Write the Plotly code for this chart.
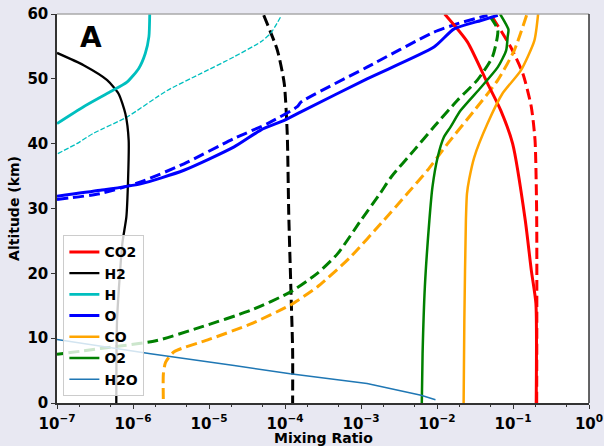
import plotly.graph_objects as go

# ---------------- data (altitude km, mixing ratio) ----------------
co2_alt = [60, 55.7, 49.3, 45.1, 40.0, 28.2, 20.5, 15.4, 0]
co2_val = [0.0126, 0.0251, 0.0462, 0.0692, 0.0989, 0.145, 0.174, 0.200, 0.202]
co2d_alt = [59.5, 54.9, 50.8, 45.7, 40.5, 28.7, 0]
co2d_val = [0.0537, 0.0933, 0.135, 0.174, 0.195, 0.205, 0.205]

h2_alt = [54.0, 52.1, 49.8, 47.7, 44.6, 40.5, 34.4, 28.7, 24.6, 12.8, 0]
h2_val = [1.0e-7, 2.24e-7, 4.57e-7, 6.46e-7, 7.94e-7, 8.77e-7, 8.61e-7, 8.18e-7, 7.24e-7, 6.17e-7, 6.03e-7]
h2d_alt = [59.8, 54.4, 49.3, 41.6, 29.2, 18.4, 8.1, 0]
h2d_val = [5.25e-5, 7.94e-5, 9.77e-5, 1.07e-4, 1.12e-4, 1.19e-4, 1.26e-4, 1.26e-4]

h_alt = [60, 56.5, 53.9, 51.6, 49.5, 48.0, 45.7, 43.1]
h_val = [1.66e-6, 1.62e-6, 1.45e-6, 1.19e-6, 8.32e-7, 5.01e-7, 2.24e-7, 1.0e-7]
hd_alt = [59.5, 57.0, 55.7, 53.4, 50.8, 48.2, 44.1, 41.6, 40.0, 38.4]
hd_val = [8.71e-5, 6.46e-5, 4.79e-5, 2.14e-5, 7.76e-6, 2.82e-6, 8.32e-7, 3.02e-7, 1.82e-7, 1.0e-7]

o_alt = [31.9, 32.8, 33.8, 35.9, 39.5, 42.1, 43.6, 44.9, 50.0, 54.9, 57.7, 59.0, 59.8]
o_val = [1.0e-7, 3.72e-7, 1.26e-6, 4.68e-6, 2.14e-5, 4.79e-5, 9.77e-5, 1.62e-4, 1.20e-3, 9.12e-3, 1.68e-2, 3.80e-2, 6.31e-2]
od_alt = [31.4, 32.3, 34.1, 36.9, 40.8, 43.1, 45.7, 46.4, 51.8, 57.2, 58.5, 59.8]
od_val = [1.0e-7, 3.72e-7, 1.26e-6, 4.68e-6, 2.14e-5, 5.89e-5, 1.45e-4, 1.62e-4, 1.20e-3, 9.12e-3, 1.86e-2, 4.62e-2]

co_alt = [60, 55.9, 51.3, 47.7, 43.1, 37.9, 34.5, 32.3, 28.2, 12.8, 0]
co_val = [0.214, 0.191, 0.127, 0.0724, 0.0462, 0.0309, 0.0265, 0.0248, 0.0240, 0.0229, 0.0224]
cod_alt = [59.8, 54.4, 49.8, 45.1, 40.0, 35.9, 32.3, 28.2, 22.5, 17.9, 15.1, 12.2, 9.8, 7.9, 6.3, 4.5, 0]
cod_val = [0.151, 0.104, 0.0631, 0.0309, 0.0138, 7.50e-3, 4.07e-3, 2.00e-3, 7.24e-4, 2.66e-4,
           1.17e-4, 3.55e-5, 1.0e-5, 3.47e-6, 2.69e-6, 2.51e-6, 2.51e-6]

o2_alt = [60, 57.6, 56.5, 54.4, 51.8, 48.7, 45.1, 42.6, 41.0, 37.9, 33.3, 28.2, 17.9, 7.6, 0]
o2_val = [0.0676, 0.0871, 0.0851, 0.0813, 0.0631, 0.0380, 0.0204, 0.0151, 0.0123, 0.0102,
          8.71e-3, 7.94e-3, 6.92e-3, 6.46e-3, 6.31e-3]
o2d_alt = [59.6, 57.5, 53.4, 49.8, 46.7, 42.6, 39.0, 34.9, 32.3, 28.2, 23.0, 20.0, 17.1, 14.3, 11.7, 9.6, 8.4, 7.5]
o2d_val = [0.0501, 0.0631, 0.0537, 0.0339, 0.0186, 9.12e-3, 5.01e-3, 2.51e-3, 1.78e-3, 1.0e-3,
           4.90e-4, 2.66e-4, 1.17e-4, 3.55e-5, 7.76e-6, 2.0e-6, 3.72e-7, 1.0e-7]

h2o_alt = [9.8, 7.6, 5.8, 4.5, 3.0, 1.2, 0.5]
h2o_val = [1.0e-7, 1.70e-6, 2.14e-5, 1.17e-4, 1.20e-3, 6.17e-3, 9.55e-3]

x_tickvals = [1e-7, 1e-6, 1e-5, 1e-4, 1e-3, 1e-2, 1e-1, 1e0]
x_ticktext = ["10<sup>\u22127</sup>", "10<sup>\u22126</sup>", "10<sup>\u22125</sup>", "10<sup>\u22124</sup>",
              "10<sup>\u22123</sup>", "10<sup>\u22122</sup>", "10<sup>\u22121</sup>", "10<sup>0</sup>"]
y_tickvals = [0, 10, 20, 30, 40, 50, 60]

RED = "#ff0000"
BLACK = "#000000"
CYAN = "#00bfbf"
BLUE = "#0000ff"
ORANGE = "#ffa500"
GREEN = "#008000"
H2O_C = "#1f77b4"
DASH = "11px,5px"

fig = go.Figure()

def add(xv, yv, color, width, dash=None, name=None, show=False, smooth=True):
    line = dict(color=color, width=width, dash=dash if dash else "solid")
    if smooth:
        line.update(shape="spline", smoothing=0.6)
    fig.add_trace(go.Scatter(
        x=xv, y=yv, mode="lines", name=name, showlegend=show,
        line=line, hoverinfo="skip"))

# dashed (non-legend) traces
add(co2d_val, co2d_alt, RED, 3, DASH)
add(h2d_val, h2d_alt, BLACK, 3, DASH)
add(hd_val, hd_alt, CYAN, 1.3, "5px,2px")
add(od_val, od_alt, BLUE, 3, DASH)
add(cod_val, cod_alt, ORANGE, 3, DASH)
add(o2d_val, o2d_alt, GREEN, 3, DASH)

# solid, legend traces
add(co2_val, co2_alt, RED, 3, None, "CO2", True)
add(h2_val, h2_alt, BLACK, 2.3, None, "H2", True)
add(h_val, h_alt, CYAN, 2.8, None, "H", True)
add(o_val, o_alt, BLUE, 3, None, "O", True)
add(co_val, co_alt, ORANGE, 2.5, None, "CO", True)
add(o2_val, o2_alt, GREEN, 2.5, None, "O2", True)
add(h2o_val, h2o_alt, H2O_C, 1.5, None, "H2O", True, smooth=False)

FONT = "DejaVu Sans"

fig.update_layout(
    width=604, height=446,
    margin=dict(l=57, r=15, t=14, b=43),
    paper_bgcolor="#e8e8f2",
    plot_bgcolor="#ffffff",
    font=dict(family=FONT, color="#000000"),
    showlegend=True,
    legend=dict(
        x=0.012, y=0.017, xanchor="left", yanchor="bottom",
        bgcolor="rgba(255,255,255,0.8)", bordercolor="#cccccc", borderwidth=1,
        font=dict(family=FONT, size=14, color="#000000", weight="bold"),
        tracegroupgap=0, itemwidth=30,
    ),
    xaxis=dict(
        type="log", range=[-7, 0], automargin=False,
        tickvals=x_tickvals, ticktext=x_ticktext, ticklabeloverflow="allow",
        ticklabelstandoff=2,
        ticks="outside", ticklen=4, tickwidth=1, tickcolor="#333333",
        minor=dict(ticks="outside", ticklen=2, tickcolor="#333333", showgrid=False),
        showgrid=False, zeroline=False,
        showline=True, linecolor="#333333", linewidth=1.5,
        tickfont=dict(family=FONT, size=15, weight="bold"),
    ),
    yaxis=dict(
        range=[0, 60], tickvals=y_tickvals, automargin=False,
        ticks="outside", ticklen=4, tickwidth=1, tickcolor="#333333",
        showgrid=False, zeroline=False,
        showline=True, linecolor="#333333", linewidth=1.5,
        tickfont=dict(family=FONT, size=15, weight="bold"),
        title=dict(text="Altitude (km)", font=dict(family=FONT, size=14, weight="bold"), standoff=4),
    ),
    shapes=[
        dict(type="line", xref="paper", yref="paper", x0=0, x1=1, y0=1, y1=1,
             line=dict(color="#aaaaaa", width=1.5)),
        dict(type="line", xref="paper", yref="paper", x0=1, x1=1, y0=0, y1=1,
             line=dict(color="#333333", width=1.5)),
    ],
    annotations=[
        dict(text="A", xref="paper", yref="paper", x=0.063, y=0.94,
             xanchor="center", yanchor="middle", showarrow=False,
             font=dict(family=FONT, size=28, color="#000000", weight="bold")),
        dict(text="Mixing Ratio", xref="paper", yref="paper", x=0.5, y=-0.09,
             xanchor="center", yanchor="middle", showarrow=False,
             font=dict(family=FONT, size=14, color="#000000", weight="bold")),
    ],
)

fig.write_html("out.html", config={"displayModeBar": False},
               post_script="document.body.style.margin='0';document.body.style.padding='0';")
